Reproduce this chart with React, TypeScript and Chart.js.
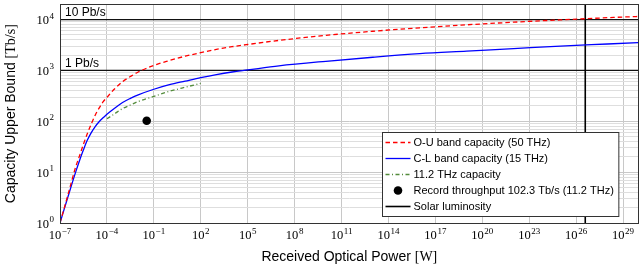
import React, { useEffect, useRef } from "react";
import { Chart, registerables } from "chart.js";

Chart.register(...registerables);

// ---------- data ----------
const POWER_W = [
  1e-7, 3.16e-7, 1e-6, 1.78e-6, 3.16e-6, 5.62e-6, 1e-5, 1.78e-5, 3.16e-5, 5.62e-5, 1e-4,
  3.16e-4, 1e-3, 3.16e-3, 1e-2, 1e-1, 1, 10, 100, 1e3, 1e4, 1e5, 1e7, 1e10, 1e13, 1e16,
  1e19, 1e22, 1e25, 1e28, 1e30,
];
const OU_CAPACITY = [
  1.0, 3.5, 12.6, 21, 35.5, 57.5, 89, 132, 182, 240, 295,
  437, 603, 759, 933, 1259, 1567, 1905, 2240, 2600, 2930, 3240, 3900, 4900, 5900, 6900,
  7900, 8900, 9880, 10900, 11550,
];
const CL_CAPACITY = [
  1.0, 3.2, 10, 17, 27.5, 42.7, 60, 79, 98, 117, 138,
  182, 234, 282, 331, 427, 525, 617, 724, 832, 933, 1023, 1230, 1514, 1820, 2140,
  2400, 2690, 3020, 3310, 3520,
];
const THZ112_POWER_W = [1e-4, 3.16e-4, 1e-3, 3.16e-3, 1e-2, 1e-1, 1, 10, 100];
const THZ112_CAPACITY = [112, 141, 178, 209, 245, 309, 389, 468, 556];
const RECORD_POWER_W = [0.035];
const RECORD_CAPACITY = [102.3];
const SOLAR_LUMINOSITY_W = 3.828e26;
const PB_LEVELS = [1000, 10000];
const PB_LABELS = ["1 Pb/s", "10 Pb/s"];
const X_TICK_EXPONENTS = [-7, -4, -1, 2, 5, 8, 11, 14, 17, 20, 23, 26, 29];
const Y_TICK_EXPONENTS = [0, 1, 2, 3, 4];
const X_MIN = 1e-7;
const X_MAX = 1e30;
const Y_MIN = 1;
const Y_MAX = 2e4;
const LEGEND_LABELS = [
  "O-U band capacity (50 THz)",
  "C-L band capacity (15 THz)",
  "11.2 THz capacity",
  "Record throughput 102.3 Tb/s (11.2 THz)",
  "Solar luminosity",
];
const Y_TITLE = ["Capacity Upper Bound ", "[Tb/s]"];
const X_TITLE = ["Received Optical Power ", "[W]"];

// ---------- styles ----------
const SANS = '"Liberation Sans", Arial, Helvetica, sans-serif';
const SERIF = '"Liberation Serif", "Times New Roman", serif';
const RED = "#ff0000";
const BLUE = "#0000ff";
const GREEN = "rgb(84,140,60)";
const RED_DASH = [4.5, 3];
const GREEN_DASH = [4, 2.5, 1, 2.5];

const pts = (xs: number[], ys: number[]) => xs.map((x, i) => ({ x, y: ys[i] }));

function isDecade(v: number) {
  const l = Math.log10(v);
  return Math.abs(l - Math.round(l)) < 1e-9;
}

function drawPow(ctx: CanvasRenderingContext2D, x: number, baseline: number, exp: number, align: "center" | "right") {
  const base = "10";
  const sup = exp < 0 ? "\u2212" + Math.abs(exp) : String(exp);
  ctx.font = `12.5px ${SERIF}`;
  const wb = ctx.measureText(base).width;
  ctx.font = `9px ${SERIF}`;
  const ws = ctx.measureText(sup).width;
  const gap = 0.6;
  const total = wb + gap + ws;
  const left = align === "center" ? x - total / 2 : x - total;
  ctx.textAlign = "left";
  ctx.textBaseline = "alphabetic";
  ctx.fillStyle = "#000";
  ctx.font = `12.5px ${SERIF}`;
  ctx.fillText(base, left, baseline);
  ctx.font = `9px ${SERIF}`;
  ctx.fillText(sup, left + wb + gap, baseline - 5.5);
}

function mixedWidth(ctx: CanvasRenderingContext2D, parts: string[], size: number) {
  ctx.font = `${size}px ${SANS}`;
  const a = ctx.measureText(parts[0]).width;
  ctx.font = `${size}px ${SERIF}`;
  const b = ctx.measureText(parts[1]).width;
  return [a, b];
}

function drawMixed(ctx: CanvasRenderingContext2D, parts: string[], size: number, cx: number, baseline: number) {
  const [a, b] = mixedWidth(ctx, parts, size);
  const left = cx - (a + b) / 2;
  ctx.textAlign = "left";
  ctx.textBaseline = "alphabetic";
  ctx.fillStyle = "#000";
  ctx.font = `${size}px ${SANS}`;
  ctx.fillText(parts[0], left, baseline);
  ctx.font = `${size}px ${SERIF}`;
  ctx.fillText(parts[1], left + a, baseline);
}

const decorPlugin = {
  id: "decor",
  afterDraw(chart: any) {
    const ctx: CanvasRenderingContext2D = chart.ctx;
    const area = chart.chartArea;
    const xs = chart.scales.x;
    const ys = chart.scales.y;
    ctx.save();

    // Pb/s labels
    ctx.fillStyle = "#000";
    ctx.font = `12px ${SANS}`;
    ctx.textAlign = "left";
    ctx.textBaseline = "alphabetic";
    PB_LEVELS.forEach((lv, i) => {
      ctx.fillText(PB_LABELS[i], area.left + 5, ys.getPixelForValue(lv) - 3.5);
    });

    // axis box
    ctx.strokeStyle = "#333";
    ctx.lineWidth = 1;
    ctx.setLineDash([]);
    ctx.strokeRect(Math.round(area.left) + 0.5, Math.round(area.top) + 0.5,
      Math.round(area.right - area.left) - 1, Math.round(area.bottom - area.top));

    // tick labels
    X_TICK_EXPONENTS.forEach((e) => {
      drawPow(ctx, xs.getPixelForValue(Math.pow(10, e)), area.bottom + 16, e, "center");
    });
    Y_TICK_EXPONENTS.forEach((e) => {
      drawPow(ctx, area.left - 6, ys.getPixelForValue(Math.pow(10, e)) + 4.5, e, "right");
    });

    // axis titles
    drawMixed(ctx, X_TITLE, 14, (area.left + area.right) / 2, area.bottom + 38);
    ctx.save();
    ctx.translate(14.5, (area.top + area.bottom) / 2);
    ctx.rotate(-Math.PI / 2);
    drawMixed(ctx, Y_TITLE, 14, 0, 0);
    ctx.restore();

    // legend
    ctx.font = `11px ${SANS}`;
    let maxW = 0;
    LEGEND_LABELS.forEach((t) => { maxW = Math.max(maxW, ctx.measureText(t).width); });
    const rowH = 16;
    const sampleW = 25;
    const boxW = 3 + sampleW + 3 + maxW + 5;
    const boxH = rowH * LEGEND_LABELS.length + 4;
    const bx = Math.round(area.right - 20 - boxW) + 0.5;
    const by = Math.round(area.bottom - 7 - boxH) + 0.5;
    ctx.fillStyle = "#fff";
    ctx.fillRect(bx, by, boxW, boxH);
    ctx.strokeStyle = "#333";
    ctx.lineWidth = 1;
    ctx.strokeRect(bx, by, boxW, boxH);
    LEGEND_LABELS.forEach((t, i) => {
      const cy = by + 10 + i * rowH;
      const sx = bx + 3;
      ctx.save();
      ctx.lineWidth = 1.3;
      if (i === 0) { ctx.strokeStyle = RED; ctx.setLineDash(RED_DASH); }
      if (i === 1) { ctx.strokeStyle = BLUE; ctx.setLineDash([]); }
      if (i === 2) { ctx.strokeStyle = GREEN; ctx.setLineDash(GREEN_DASH); }
      if (i === 4) { ctx.strokeStyle = "#000"; ctx.setLineDash([]); ctx.lineWidth = 1.6; }
      if (i === 3) {
        ctx.fillStyle = "#000";
        ctx.beginPath();
        ctx.arc(sx + sampleW / 2, cy, 4.3, 0, Math.PI * 2);
        ctx.fill();
      } else {
        ctx.beginPath();
        ctx.moveTo(sx, cy);
        ctx.lineTo(sx + sampleW, cy);
        ctx.stroke();
      }
      ctx.restore();
      ctx.fillStyle = "#000";
      ctx.font = `11px ${SANS}`;
      ctx.textAlign = "left";
      ctx.textBaseline = "middle";
      ctx.fillText(t, sx + sampleW + 3, cy);
    });

    ctx.restore();
  },
};

export default function App() {
  const ref = useRef<HTMLCanvasElement | null>(null);

  useEffect(() => {
    if (!ref.current) return;
    const yTicks: number[] = [];
    Y_TICK_EXPONENTS.forEach((e) => {
      for (let m = 1; m <= 9; m++) {
        const v = m * Math.pow(10, e);
        if (v <= Y_MAX) yTicks.push(v);
      }
    });
    const chart = new Chart(ref.current, {
      type: "line",
      data: {
        datasets: [
          {
            label: LEGEND_LABELS[0],
            data: pts(POWER_W, OU_CAPACITY),
            borderColor: RED,
            borderDash: RED_DASH,
            borderWidth: 1.3,
            pointRadius: 0,
            cubicInterpolationMode: "monotone",
            fill: false,
          },
          {
            label: LEGEND_LABELS[1],
            data: pts(POWER_W, CL_CAPACITY),
            borderColor: BLUE,
            borderWidth: 1.3,
            pointRadius: 0,
            cubicInterpolationMode: "monotone",
            fill: false,
          },
          {
            label: LEGEND_LABELS[2],
            data: pts(THZ112_POWER_W, THZ112_CAPACITY),
            borderColor: GREEN,
            borderDash: GREEN_DASH,
            borderWidth: 1.3,
            pointRadius: 0,
            cubicInterpolationMode: "monotone",
            fill: false,
          },
          {
            label: LEGEND_LABELS[3],
            data: pts(RECORD_POWER_W, RECORD_CAPACITY),
            showLine: false,
            pointRadius: 4.3,
            pointBackgroundColor: "#000",
            pointBorderWidth: 0,
            borderColor: "#000",
          },
          {
            label: LEGEND_LABELS[4],
            data: [{ x: SOLAR_LUMINOSITY_W, y: Y_MIN }, { x: SOLAR_LUMINOSITY_W, y: Y_MAX }],
            borderColor: "#000",
            borderWidth: 1.6,
            pointRadius: 0,
            fill: false,
          },
          ...PB_LEVELS.map((lv, i) => ({
            label: PB_LABELS[i],
            data: [{ x: X_MIN, y: lv }, { x: X_MAX, y: lv }],
            borderColor: "#111",
            borderWidth: 1.3,
            pointRadius: 0,
            fill: false,
          })),
        ],
      },
      options: {
        responsive: false,
        animation: false,
        events: [],
        layout: { padding: { top: 0, right: 2, left: 0, bottom: 0 } },
        plugins: { legend: { display: false }, tooltip: { enabled: false } },
        scales: {
          x: {
            type: "logarithmic",
            min: X_MIN,
            max: X_MAX,
            afterBuildTicks: (s: any) => {
              s.ticks = X_TICK_EXPONENTS.map((e) => ({ value: Math.pow(10, e) }));
            },
            afterFit: (s: any) => { s.height = 46; },
            ticks: { display: false, autoSkip: false },
            grid: { color: "rgb(200,200,200)", lineWidth: 1, drawTicks: false },
            border: { display: false },
          },
          y: {
            type: "logarithmic",
            min: Y_MIN,
            max: Y_MAX,
            afterBuildTicks: (s: any) => {
              s.ticks = yTicks.map((v) => ({ value: v }));
            },
            afterFit: (s: any) => { s.width = 60; },
            ticks: { display: false, autoSkip: false },
            grid: {
              color: (c: any) => (c.tick && isDecade(c.tick.value) ? "rgb(200,200,200)" : "rgb(222,222,222)"),
              lineWidth: 1,
              drawTicks: false,
            },
            border: { display: false },
          },
        },
      } as any,
      plugins: [decorPlugin],
    });
    return () => chart.destroy();
  }, []);

  return (
    <div style={{ position: "absolute", left: 0, top: 0, width: 643, height: 269, background: "#fff" }}>
      <canvas ref={ref} width={643} height={269} style={{ display: "block" }} />
    </div>
  );
}
